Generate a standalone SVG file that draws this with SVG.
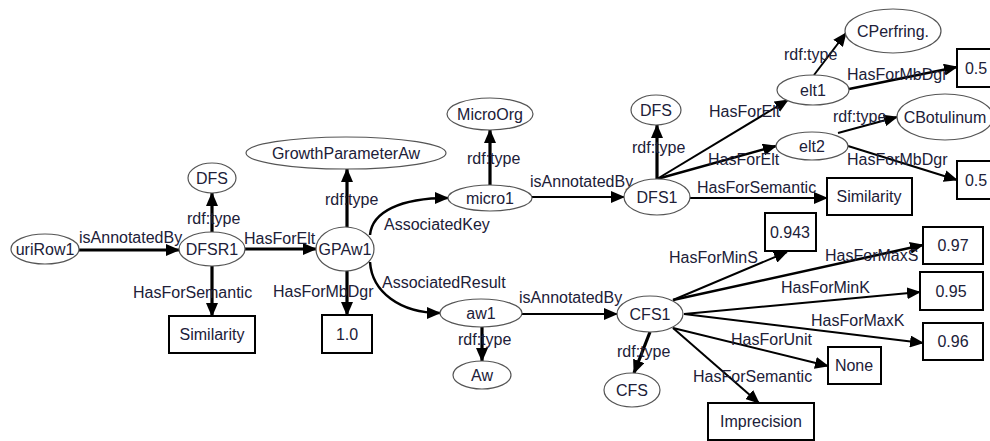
<svg xmlns="http://www.w3.org/2000/svg" width="990" height="441" viewBox="0 0 990 441">
<style>
text{font-family:"Liberation Sans",Arial,sans-serif;font-size:16px;fill:#202038}
.n text{text-anchor:middle}
ellipse{fill:#fff;stroke:#555;stroke-width:1.2}
.n rect{fill:#fff;stroke:#000;stroke-width:2}
.e path{fill:none;stroke:#000;stroke-width:2;marker-end:url(#ah)}
.e path.t{stroke-width:3.2}
</style>
<defs>
<marker id="ah" markerUnits="userSpaceOnUse" markerWidth="14" markerHeight="12" viewBox="0 0 14 12" refX="13" refY="6" orient="auto">
<path d="M0,0 L14,6 L0,12 z" fill="#000"/>
</marker>
</defs>
<rect width="990" height="441" fill="#fff"/>
<g id="connectors" class="e">
<path class="t" d="M79,250 L179,250"/>
<path class="t" d="M212,232 L212,193"/>
<path class="t" d="M212,266 L212,316"/>
<path class="t" d="M245,249 L316,249"/>
<path class="t" d="M347,227 L347,169"/>
<path class="t" d="M347,271 L347,315"/>
<path style="stroke-width:2.5" d="M370,235 C372,212 400,198 448,198"/>
<path style="stroke-width:2.5" d="M370,262 C372,292 400,313 440,313"/>
<path class="t" d="M490,185 L490,130"/>
<path d="M532,197 L624,197"/>
<path class="t" d="M657,179 L657,125"/>
<path d="M657,179 L788,100"/>
<path style="stroke-width:2.5" d="M657,179 L776,146"/>
<path d="M690,198 L827,198"/>
<path d="M814,75 L846,33"/>
<path style="stroke-width:2.5" d="M849,89 L957,67"/>
<path d="M838,133 L897,117"/>
<path d="M848,146 L957,180"/>
<path class="t" d="M482,327 L482,361"/>
<path d="M522,314 L617,314"/>
<path class="t" d="M650,332 L634,373"/>
<path d="M673,300 L787,252"/>
<path style="stroke-width:2.5" d="M673,300 L923,245"/>
<path d="M684,314 L920,292"/>
<path d="M684,314 L923,343"/>
<path d="M673,328 L828,366"/>
<path d="M673,328 L759,403"/>
</g>
<g id="edge-labels">
<text x="79" y="243">isAnnotatedBy</text>
<text x="187" y="224">rdf:type</text>
<text x="244" y="244">HasForElt</text>
<text x="133" y="298">HasForSemantic</text>
<text x="325" y="205">rdf:type</text>
<text x="273" y="297">HasForMbDgr</text>
<text x="384" y="230">AssociatedKey</text>
<text x="382" y="288">AssociatedResult</text>
<text x="467" y="164">rdf:type</text>
<text x="530" y="187">isAnnotatedBy</text>
<text x="632" y="153">rdf:type</text>
<text x="709" y="117">HasForElt</text>
<text x="708" y="165">HasForElt</text>
<text x="697" y="193">HasForSemantic</text>
<text x="784" y="60">rdf:type</text>
<text x="847" y="80">HasForMbDgr</text>
<text x="833" y="122">rdf:type</text>
<text x="847" y="165">HasForMbDgr</text>
<text x="458" y="345">rdf:type</text>
<text x="519" y="303">isAnnotatedBy</text>
<text x="617" y="357">rdf:type</text>
<text x="669" y="263">HasForMinS</text>
<text x="825" y="261">HasForMaxS</text>
<text x="781" y="293">HasForMinK</text>
<text x="811" y="326">HasForMaxK</text>
<text x="731" y="345">HasForUnit</text>
<text x="693" y="382">HasForSemantic</text>
</g>
<g class="n">
<g id="uriRow1"><ellipse cx="45" cy="249" rx="34" ry="15"/><text x="45" y="255">uriRow1</text></g>
<g id="DFSR1"><ellipse cx="212" cy="249" rx="33" ry="17"/><text x="212" y="255">DFSR1</text></g>
<g id="DFS_a"><ellipse cx="212" cy="178" rx="24" ry="15"/><text x="212" y="184">DFS</text></g>
<g id="Similarity_a"><rect x="169" y="316" width="86" height="37"/><text x="212" y="340">Similarity</text></g>
<g id="GrowthParameterAw"><ellipse cx="346" cy="153" rx="100" ry="16"/><text x="346" y="159">GrowthParameterAw</text></g>
<g id="GPAw1"><ellipse cx="345" cy="249" rx="29" ry="22"/><text x="345" y="255">GPAw1</text></g>
<g id="v1_0"><rect x="322" y="315" width="50" height="38"/><text x="347" y="340">1.0</text></g>
<g id="MicroOrg"><ellipse cx="490" cy="114" rx="43" ry="16"/><text x="490" y="120">MicroOrg</text></g>
<g id="micro1"><ellipse cx="490" cy="198" rx="42" ry="13"/><text x="490" y="204">micro1</text></g>
<g id="aw1"><ellipse cx="481" cy="313" rx="41" ry="14"/><text x="481" y="319">aw1</text></g>
<g id="Aw"><ellipse cx="482" cy="375" rx="29" ry="14"/><text x="482" y="381">Aw</text></g>
<g id="DFS1"><ellipse cx="657" cy="197" rx="33" ry="18"/><text x="657" y="203">DFS1</text></g>
<g id="DFS_b"><ellipse cx="656" cy="110" rx="25" ry="15"/><text x="656" y="116">DFS</text></g>
<g id="Similarity_b"><rect x="827" y="178" width="85" height="37"/><text x="869" y="202">Similarity</text></g>
<g id="elt1"><ellipse cx="813" cy="90" rx="36" ry="15"/><text x="813" y="96">elt1</text></g>
<g id="elt2"><ellipse cx="812" cy="146" rx="36" ry="14"/><text x="812" y="152">elt2</text></g>
<g id="CPerfring"><ellipse cx="893" cy="31" rx="48" ry="22"/><text x="893" y="37">CPerfring.</text></g>
<g id="CBotulinum"><ellipse cx="945" cy="117" rx="48" ry="23"/><text x="945" y="123">CBotulinum</text></g>
<g id="v0_5a"><rect x="957" y="49" width="45" height="38"/><text x="976" y="74">0.5</text></g>
<g id="v0_5b"><rect x="957" y="161" width="45" height="38"/><text x="976" y="186">0.5</text></g>
<g id="CFS1"><ellipse cx="650" cy="314" rx="33" ry="18"/><text x="650" y="320">CFS1</text></g>
<g id="CFS"><ellipse cx="632" cy="390" rx="28" ry="17"/><text x="632" y="396">CFS</text></g>
<g id="v0_943"><rect x="765" y="213" width="51" height="38"/><text x="790" y="238">0.943</text></g>
<g id="v0_97"><rect x="923" y="227" width="60" height="37"/><text x="953" y="251">0.97</text></g>
<g id="v0_95"><rect x="920" y="272" width="63" height="38"/><text x="951" y="297">0.95</text></g>
<g id="v0_96"><rect x="923" y="323" width="60" height="37"/><text x="953" y="347">0.96</text></g>
<g id="None"><rect x="828" y="347" width="53" height="37"/><text x="854" y="371">None</text></g>
<g id="Imprecision"><rect x="708" y="403" width="106" height="37"/><text x="761" y="427">Imprecision</text></g>
</g>
</svg>
